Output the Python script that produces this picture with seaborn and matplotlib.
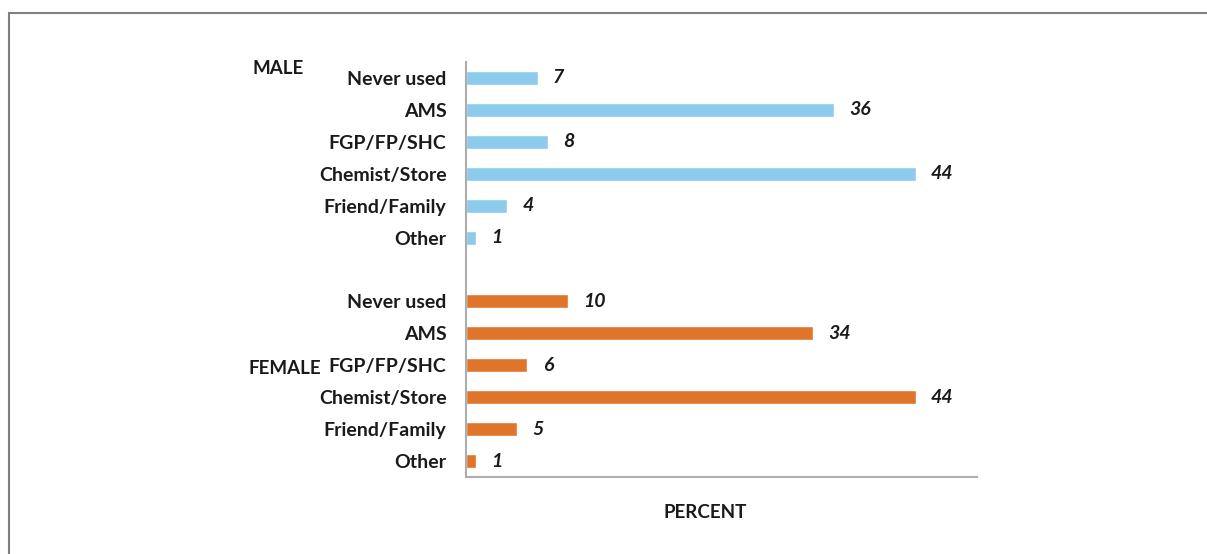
import matplotlib
matplotlib.use("Agg")
import matplotlib.pyplot as plt
from matplotlib.patches import Rectangle
import seaborn as sns
import pandas as pd

categories = ["Never used", "AMS", "FGP/FP/SHC", "Chemist/Store", "Friend/Family", "Other"]
male = [7, 36, 8, 44, 4, 1]
female = [10, 34, 6, 44, 5, 1]

sns.set_theme(style="white")
plt.rcParams['font.family'] = ['Lato', 'DejaVu Sans']

# one row per bar, keyed so the duplicate category names stay apart
rows = []
for c, v in zip(categories, male):
    rows.append({"key": "MALE|" + c, "pct": v, "sex": "MALE"})
for c, v in zip(categories, female):
    rows.append({"key": "FEMALE|" + c, "pct": v, "sex": "FEMALE"})
df = pd.DataFrame(rows)

order = ["MALE|" + c for c in categories] + ["gap"] + ["FEMALE|" + c for c in categories]
ticklabels = categories + [""] + categories

fig = plt.figure(figsize=(12.07, 5.54), dpi=100)
ax = fig.add_axes([466/1207, 77/554, 511/1207, 415/554])

sns.barplot(data=df, x="pct", y="key", hue="sex", order=order, orient="h",
            palette={"MALE": "#8DCBEC", "FEMALE": "#E07428"},
            width=0.44, dodge=False, legend=False, saturation=1, ax=ax)

for cont in ax.containers:
    ax.bar_label(cont, fmt="%d", padding=11, fontsize=14,
                 fontweight="bold", fontstyle="italic", color="#1a1a1a")

ax.set_xlim(0, 50)
ax.set_ylim(12.5, -0.5)
ax.set_yticks(range(len(order)))
ax.set_yticklabels(ticklabels, fontsize=14, fontweight="bold", color="#1a1a1a")
ax.tick_params(axis="y", length=0, pad=14)
ax.set_xticks([])
ax.set_xlabel("")
ax.set_ylabel("")
for s in ["top", "right"]:
    ax.spines[s].set_visible(False)
for s in ["left", "bottom"]:
    ax.spines[s].set_color("#ADADAD")
    ax.spines[s].set_linewidth(1.5)

fig.text(253/1207, 1 - 69/554, "MALE", fontsize=13.5, fontweight="bold",
         color="#1a1a1a", va="center", ha="left")
fig.text(249/1207, 1 - 368/554, "FEMALE", fontsize=13.5, fontweight="bold",
         color="#1a1a1a", va="center", ha="left")
fig.text(705/1207, 1 - 513/554, "PERCENT", fontsize=13.5, fontweight="bold",
         color="#1a1a1a", va="center", ha="center")

# outer frame of the original chart area
fig.add_artist(Rectangle((9/1207, -0.1), 1.2, 0.1 + 1 - 13/554, transform=fig.transFigure,
                         fill=False, edgecolor="#7F7F7F", linewidth=1.5))

fig.savefig("out.png", dpi=100)
